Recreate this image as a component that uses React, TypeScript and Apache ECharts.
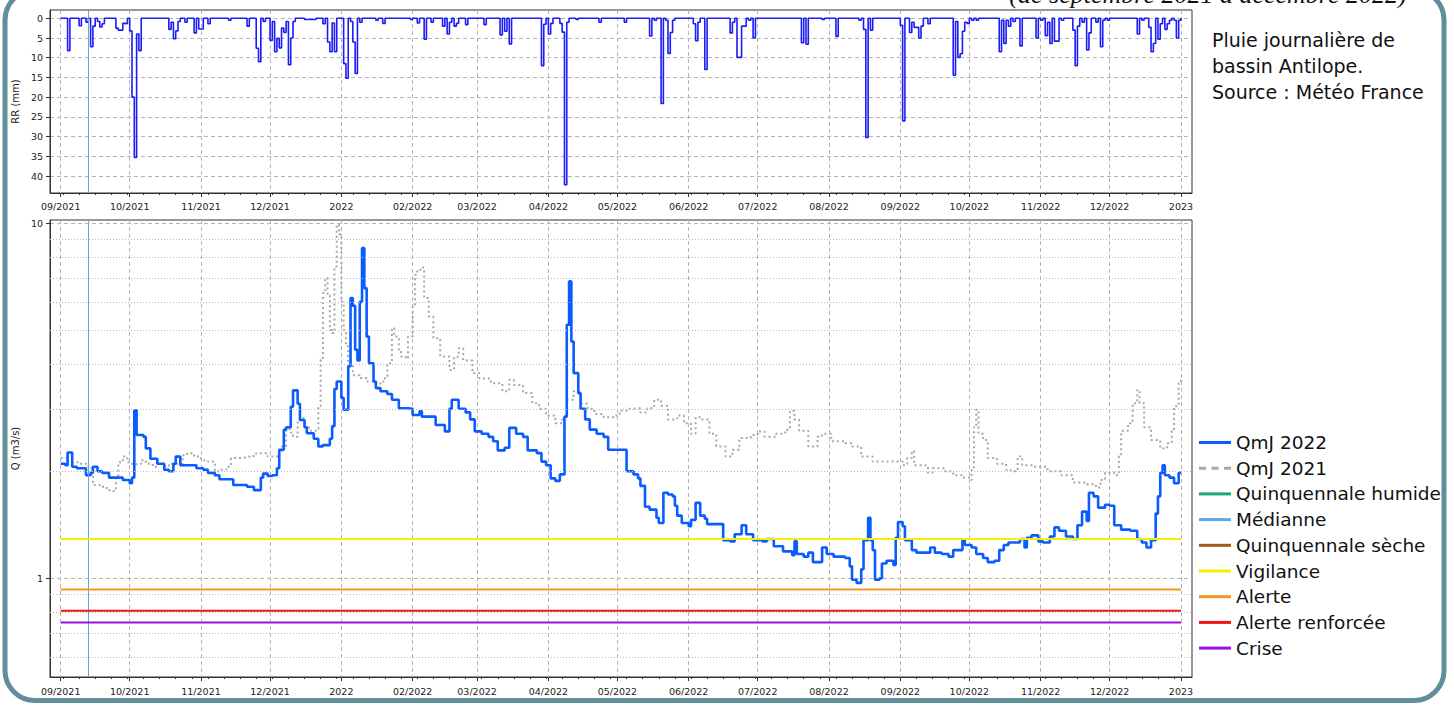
import React, { useEffect, useRef } from 'react';
import * as echarts from 'echarts';

// ---------- DATA ----------
// Day index = days since 2021-09-01 (first day on the x axis)
const START_DATE = '2021-09-01';
const END_DAY = 487; // 2023-01-01

const monthTickDates = [
  '2021-09-01', '2021-10-01', '2021-11-01', '2021-12-01', '2022-01-01', '2022-02-01',
  '2022-03-01', '2022-04-01', '2022-05-01', '2022-06-01', '2022-07-01', '2022-08-01',
  '2022-09-01', '2022-10-01', '2022-11-01', '2022-12-01', '2023-01-01',
];
const monthTickLabels = [
  '09/2021', '10/2021', '11/2021', '12/2021', '2022', '02/2022', '03/2022', '04/2022',
  '05/2022', '06/2022', '07/2022', '08/2022', '09/2022', '10/2022', '11/2022', '12/2022', '2023',
];
const rrTicks = [0, 5, 10, 15, 20, 25, 30, 35, 40];
const qMinorGrid = [0.6, 0.7, 0.8, 0.9, 2, 3, 4, 5, 6, 7, 8, 9];
const markerDay = 12; // vertical marker (2021-09-13)

// Daily basin rainfall, mm: [day, mm] (days without rain are 0)
const rainDays: [number, number][] = [
  [3, 8.2], [8, 1.9], [11, 1.0], [13, 7.2], [14, 2.0], [16, 0.8], [17, 2.2], [18, 1.4],
  [24, 2.5], [25, 3.0], [26, 3.0], [27, 1.3], [28, 1.4], [30, 3.2], [31, 20.0], [32, 35.3],
  [33, 4.0], [34, 8.2], [47, 2.8], [48, 1.0], [49, 5.2], [50, 3.2], [51, 0.8], [54, 1.0],
  [58, 3.7], [60, 2.7], [61, 2.7], [64, 1.4], [73, 0.5], [81, 2.0], [85, 7.6], [86, 11.0],
  [88, 0.8], [91, 5.6], [92, 0.8], [93, 8.5], [94, 5.1], [95, 7.5], [96, 2.5], [97, 3.6],
  [98, 0.8], [99, 11.8], [100, 5.0], [101, 0.8], [106, 0.3], [107, 0.3], [108, 0.3],
  [109, 0.3], [110, 0.3], [114, 1.4], [116, 6.0], [117, 8.5], [118, 1.2], [119, 8.5],
  [123, 11.5], [124, 15.2], [126, 0.8], [127, 6.0], [128, 14.0], [130, 1.0], [137, 0.5],
  [140, 1.3], [152, 0.3], [155, 1.2], [158, 5.3], [161, 1.0], [166, 2.0], [168, 4.0],
  [169, 1.0], [171, 2.0], [172, 1.3], [176, 1.6], [184, 1.6], [191, 4.2], [193, 3.3],
  [195, 6.5], [209, 12.0], [210, 1.5], [212, 4.0], [213, 1.3], [217, 1.3], [218, 3.5],
  [219, 42.2], [220, 1.0], [224, 0.3], [234, 1.0], [245, 1.0], [256, 4.5], [258, 0.5],
  [261, 21.6], [263, 0.5], [264, 8.9], [265, 3.6], [266, 0.5], [275, 1.4], [276, 5.7],
  [277, 1.0], [280, 13.0], [291, 3.7], [292, 1.0], [294, 9.9], [295, 9.9], [296, 2.0],
  [297, 2.0], [299, 0.5], [301, 5.0], [322, 6.2], [324, 6.6], [331, 0.3], [337, 4.6],
  [347, 0.5], [349, 2.8], [350, 30.2], [352, 3.0], [365, 1.8], [366, 26.0], [369, 3.6],
  [370, 1.0], [371, 2.3], [372, 2.3], [373, 5.0], [374, 2.0], [377, 1.4], [388, 14.4],
  [389, 0.8], [390, 9.9], [391, 9.0], [392, 3.3], [393, 1.0], [394, 1.3], [396, 0.5],
  [398, 0.5], [408, 8.5], [409, 0.5], [410, 6.4], [411, 0.5], [412, 2.0], [414, 0.8],
  [417, 7.0], [424, 5.0], [426, 0.5], [428, 4.4], [429, 1.0], [430, 6.4], [432, 5.8],
  [433, 5.8], [435, 0.5], [440, 3.0], [441, 12.0], [442, 2.0], [444, 1.0], [446, 8.0],
  [447, 3.7], [450, 1.0], [452, 7.2], [453, 0.5], [455, 0.5], [468, 4.0], [470, 0.5],
  [473, 2.3], [474, 8.5], [475, 6.4], [477, 5.3], [478, 1.4], [480, 2.8], [481, 1.4],
  [482, 0.5], [484, 0.5], [485, 5.0], [486, 0.5],
];

// Daily mean flow 2022, m3/s: [day, value] at each change
const qmj2022: [number, number][] = [
  [0, 2.10], [2, 2.08], [3, 2.26], [5, 2.06], [7, 2.04], [11, 1.95], [13, 1.98], [14, 2.06],
  [16, 2.0], [18, 1.98], [21, 1.92], [27, 1.89], [30, 1.85], [31, 1.92], [32, 2.97], [33, 2.53],
  [36, 2.5], [37, 2.32], [39, 2.17], [42, 2.1], [45, 2.02], [47, 2.0], [49, 2.1], [50, 2.2],
  [52, 2.08], [59, 2.04], [62, 2.02], [64, 1.98], [67, 1.95], [69, 1.90], [75, 1.83], [81, 1.81],
  [84, 1.77], [87, 1.92], [88, 1.97], [90, 1.94], [92, 1.95], [94, 2.04], [95, 2.3], [97, 2.62],
  [98, 2.66], [100, 3.04], [101, 3.38], [103, 3.1], [104, 2.79], [106, 2.66], [107, 2.56],
  [110, 2.47], [112, 2.35], [114, 2.37], [117, 2.47], [118, 2.68], [119, 3.41], [120, 3.58],
  [122, 3.22], [123, 2.98], [125, 3.95], [126, 6.15], [127, 5.85], [128, 4.40], [129, 4.10],
  [130, 6.0], [131, 8.5], [132, 6.56], [133, 4.79], [134, 4.03], [136, 3.58], [137, 3.43],
  [139, 3.36], [142, 3.3], [144, 3.18], [147, 3.01], [151, 3.0], [153, 2.88], [156, 2.95],
  [157, 2.85], [163, 2.70], [167, 2.59], [169, 3.0], [170, 3.18], [173, 3.0], [176, 2.93],
  [178, 2.8], [180, 2.59], [183, 2.55], [186, 2.50], [188, 2.43], [190, 2.29], [193, 2.33],
  [195, 2.65], [198, 2.55], [201, 2.50], [203, 2.29], [207, 2.25], [209, 2.13], [211, 2.08],
  [213, 1.91], [215, 1.88], [217, 1.96], [219, 2.85], [220, 5.17], [221, 6.85], [222, 4.64],
  [223, 3.78], [225, 3.32], [226, 3.0], [228, 2.8], [230, 2.62], [233, 2.55], [236, 2.5],
  [238, 2.30], [246, 2.0], [249, 1.96], [251, 1.91], [252, 1.82], [254, 1.59], [256, 1.56],
  [259, 1.48], [260, 1.43], [262, 1.74], [264, 1.72], [266, 1.70], [267, 1.60], [268, 1.5],
  [270, 1.43], [273, 1.40], [274, 1.46], [276, 1.63], [278, 1.5], [280, 1.47], [281, 1.42],
  [288, 1.28], [291, 1.27], [293, 1.33], [296, 1.41], [298, 1.33], [301, 1.28], [305, 1.27],
  [307, 1.29], [310, 1.23], [314, 1.19], [318, 1.16], [319, 1.27], [320, 1.17], [323, 1.15],
  [325, 1.18], [327, 1.11], [331, 1.22], [333, 1.17], [336, 1.15], [341, 1.14], [343, 1.08],
  [344, 0.99], [346, 0.97], [348, 1.06], [349, 1.28], [351, 1.48], [352, 1.28], [353, 1.2],
  [354, 0.99], [356, 1.0], [357, 1.1], [359, 1.12], [362, 1.09], [363, 1.3], [364, 1.44],
  [366, 1.40], [367, 1.28], [370, 1.2], [372, 1.18], [378, 1.22], [380, 1.18], [383, 1.17],
  [386, 1.15], [388, 1.2], [392, 1.28], [393, 1.24], [396, 1.22], [398, 1.17], [401, 1.14],
  [403, 1.11], [406, 1.12], [408, 1.2], [410, 1.24], [412, 1.26], [417, 1.29], [419, 1.22],
  [420, 1.3], [422, 1.32], [425, 1.27], [427, 1.26], [430, 1.31], [432, 1.39], [434, 1.36],
  [437, 1.31], [440, 1.29], [442, 1.41], [444, 1.54], [446, 1.45], [447, 1.74], [449, 1.70],
  [451, 1.58], [454, 1.61], [456, 1.6], [458, 1.41], [461, 1.37], [465, 1.36], [468, 1.29],
  [470, 1.26], [472, 1.22], [474, 1.28], [476, 1.52], [477, 1.70], [478, 1.98], [479, 2.08],
  [480, 1.95], [482, 1.92], [484, 1.85], [486, 1.98], [487, 1.98],
];

// Daily mean flow of the previous year, plotted on the same calendar positions
const qmj2021: [number, number][] = [
  [0, 2.18], [3, 2.12], [8, 2.1], [12, 2.04], [14, 1.83], [17, 1.81], [20, 1.77], [22, 1.76],
  [24, 1.92], [25, 2.12], [27, 2.2], [29, 2.12], [31, 2.06], [33, 2.1], [35, 2.15], [37, 2.1],
  [40, 2.06], [42, 2.1], [45, 2.06], [47, 2.1], [53, 2.22], [55, 2.25], [58, 2.2], [61, 2.15],
  [64, 2.13], [67, 2.0], [69, 2.02], [72, 2.06], [74, 2.18], [78, 2.19], [82, 2.21], [85, 2.25],
  [90, 2.2], [95, 2.25], [96, 2.35], [98, 2.63], [100, 2.57], [101, 2.5], [103, 2.77],
  [104, 2.82], [106, 2.66], [108, 2.6], [111, 2.63], [112, 3.05], [113, 4.12], [114, 6.35],
  [115, 7.0], [116, 6.25], [117, 5.0], [118, 4.9], [119, 7.55], [120, 9.9], [121, 9.3],
  [122, 6.0], [123, 5.0], [124, 4.5], [125, 4.0], [127, 3.73], [130, 3.66], [133, 3.58],
  [136, 3.53], [139, 3.58], [141, 3.7], [142, 4.03], [144, 5.06], [145, 4.79], [147, 4.4],
  [148, 4.21], [150, 4.15], [151, 4.79], [153, 5.82], [154, 7.15], [155, 7.39], [157, 7.5],
  [158, 6.15], [160, 5.46], [162, 4.74], [165, 4.21], [169, 3.86], [171, 4.2], [173, 4.44],
  [175, 4.1], [179, 3.78], [182, 3.65], [187, 3.54], [192, 3.36], [195, 3.62], [197, 3.5],
  [201, 3.32], [205, 3.11], [208, 3.0], [211, 2.87], [215, 2.73], [218, 2.84], [220, 3.18],
  [223, 3.36], [226, 3.1], [229, 3.0], [232, 2.9], [236, 2.84], [241, 2.87], [243, 2.96],
  [246, 3.0], [249, 3.01], [252, 2.93], [255, 3.01], [258, 3.18], [261, 3.06], [264, 2.8],
  [268, 2.87], [271, 2.73], [274, 2.55], [276, 2.84], [278, 2.8], [282, 2.55], [285, 2.35],
  [289, 2.2], [292, 2.3], [295, 2.48], [300, 2.53], [303, 2.59], [306, 2.5], [311, 2.55],
  [315, 2.62], [317, 2.96], [319, 2.8], [321, 2.6], [325, 2.35], [329, 2.5], [331, 2.55],
  [335, 2.43], [341, 2.4], [344, 2.35], [348, 2.2], [353, 2.13], [359, 2.13], [366, 2.08],
  [368, 2.18], [370, 2.28], [371, 2.08], [377, 1.98], [379, 2.04], [384, 2.0], [388, 1.95],
  [392, 1.92], [395, 1.89], [396, 2.02], [397, 2.66], [398, 2.98], [399, 2.55], [401, 2.45],
  [403, 2.18], [407, 2.1], [411, 2.02], [413, 2.0], [416, 2.2], [418, 2.08], [423, 2.06],
  [429, 2.0], [435, 1.95], [440, 1.86], [446, 1.84], [450, 1.8], [452, 1.89], [454, 1.98],
  [458, 1.95], [460, 2.2], [461, 2.6], [464, 2.73], [466, 3.11], [468, 3.39], [469, 3.11],
  [471, 2.66], [474, 2.45], [478, 2.32], [481, 2.4], [483, 2.6], [484, 3.05], [486, 3.54],
  [487, 3.62],
];

// Statistical curves listed in the legend (no values drawn in this period)
const quinqHumide: [number, number][] = [];
const medianne: [number, number][] = [];
const quinqSeche: [number, number][] = [];

// Flow thresholds, m3/s
const thresholdNames = ['Vigilance', 'Alerte', 'Alerte renforcée', 'Crise'];
const thresholdValues = [1.29, 0.93, 0.81, 0.75];

const legendNames = [
  'QmJ 2022', 'QmJ 2021', 'Quinquennale humide', 'Médianne', 'Quinquennale sèche',
  'Vigilance', 'Alerte', 'Alerte renforcée', 'Crise',
];

// ---------- HELPERS / STYLES ----------
const DAY = 86400000;
const isoTs = (s: string) => Date.parse(s + 'T00:00:00Z');
const START = isoTs(START_DATE);
const toTs = (d: number) => START + d * DAY;

const FONT = 'DejaVu Sans';
const threshColors = ['#f2f200', '#f5961e', '#f01414', '#9a10e6'];
const statColors = ['#18a47c', '#5aaaf0', '#a35a18'];

function rainSeries(events: [number, number][]) {
  const days = new Set(events.map((e) => e[0]));
  const out: [number, number][] = [[toTs(0), 0]];
  for (const [d, v] of events) {
    out.push([toTs(d), v]);
    if (!days.has(d + 1)) out.push([toTs(d + 1), 0]);
  }
  out.push([toTs(END_DAY), 0]);
  return out;
}
const toSeries = (arr: [number, number][]) => arr.map(([d, v]) => [toTs(d), v]);

const monthTs = monthTickDates.map(isoTs);
const weekTs: number[] = [];
for (let t = isoTs('2021-09-02'); t < isoTs('2023-01-01'); t += 7 * DAY) weekTs.push(t);
const monthLabel = (v: number) => {
  const i = monthTs.findIndex((m) => Math.abs(m - v) < DAY / 2);
  return i >= 0 ? monthTickLabels[i] : '';
};

const xMin = START - 4.65 * DAY;
const xMax = START + 491.8 * DAY;
const gridLine = { color: '#b5b5b5', width: 1, type: [4, 3] as any };
const axisColor = '#333';

function xMajor(gridIndex: number, margin: number) {
  return {
    type: 'value', gridIndex, min: xMin, max: xMax, position: 'bottom', scale: true,
    axisLine: { show: true, onZero: false, lineStyle: { color: axisColor, width: 1 } },
    axisTick: { show: true, customValues: monthTs, length: 4, lineStyle: { color: axisColor } },
    axisLabel: {
      customValues: monthTs, formatter: monthLabel, fontFamily: FONT, fontSize: 9.5,
      color: '#222', margin, hideOverlap: false,
    },
    splitLine: { show: true, lineStyle: gridLine },
  };
}
function xMinor(gridIndex: number) {
  return {
    type: 'value', gridIndex, min: xMin, max: xMax, position: 'bottom', scale: true,
    axisLine: { show: false, onZero: false },
    axisTick: { show: true, customValues: weekTs, length: 2, lineStyle: { color: axisColor } },
    axisLabel: { show: false },
    splitLine: { show: false },
  };
}

const LINE_ICON = 'rect';
const DASH_ICON = 'path://M0,0h7v3h-7z M12.5,0h7v3h-7z M25,0h7v3h-7z';

const option: any = {
  animation: false,
  backgroundColor: '#ffffff',
  textStyle: { fontFamily: FONT },
  grid: [
    { left: 50, top: 10, width: 1142, height: 183, show: true, borderColor: axisColor, borderWidth: 1 },
    { left: 50, top: 220, width: 1142, height: 457, show: true, borderColor: axisColor, borderWidth: 1 },
  ],
  xAxis: [xMajor(0, 8), xMinor(0), xMajor(1, 9), xMinor(1)],
  yAxis: [
    {
      type: 'value', gridIndex: 0, inverse: true, min: -2.1, max: 44.3,
      name: 'RR (mm)', nameLocation: 'middle', nameGap: 28,
      nameTextStyle: { fontFamily: FONT, fontSize: 10, color: '#222' },
      axisLine: { show: true, lineStyle: { color: axisColor } },
      axisTick: { show: true, customValues: rrTicks, length: 4, lineStyle: { color: axisColor } },
      axisLabel: { customValues: rrTicks, fontFamily: FONT, fontSize: 9.5, color: '#222', margin: 7 },
      splitLine: { show: true, lineStyle: gridLine },
    },
    {
      type: 'log', logBase: 10, gridIndex: 1, min: 0.527, max: 10.2,
      name: 'Q (m3/s)', nameLocation: 'middle', nameGap: 26,
      nameTextStyle: { fontFamily: FONT, fontSize: 10, color: '#222' },
      axisLine: { show: true, lineStyle: { color: axisColor } },
      axisTick: { show: true, length: 4, lineStyle: { color: axisColor } },
      axisLabel: {
        fontFamily: FONT, fontSize: 9.5, color: '#222', margin: 7,
        showMinLabel: false, showMaxLabel: false,
      },
      splitLine: { show: true, showMinLine: false, showMaxLine: false, lineStyle: gridLine },
    },
  ],
  legend: {
    orient: 'vertical', left: 1194, top: 428, itemWidth: 32, itemHeight: 3, itemGap: 6.7,
    selectedMode: false,
    textStyle: { fontFamily: FONT, fontSize: 18.5, color: '#111' },
    itemStyle: { borderWidth: 0 },
    data: legendNames.map((n) => ({ name: n, icon: n === 'QmJ 2021' ? DASH_ICON : LINE_ICON })),
  },
  series: [
    {
      type: 'line', name: 'Pluie', xAxisIndex: 0, yAxisIndex: 0, step: 'end', symbol: 'none',
      data: rainSeries(rainDays), color: '#1c1cf5',
      lineStyle: { color: '#1c1cf5', width: 1.6 },
      markLine: {
        silent: true, symbol: 'none', label: { show: false },
        lineStyle: { color: '#62a8d0', width: 1, type: 'solid' },
        data: [{ xAxis: toTs(markerDay) }],
      },
    },
    {
      type: 'line', name: 'grille', xAxisIndex: 2, yAxisIndex: 1, data: [], symbol: 'none', z: 1,
      markLine: {
        silent: true, symbol: 'none', label: { show: false },
        data: [
          ...qMinorGrid.map((v) => ({ yAxis: v, lineStyle: { color: '#bdbdbd', width: 1, type: [1, 2] } })),
          { xAxis: toTs(markerDay), lineStyle: { color: '#62a8d0', width: 1, type: 'solid' } },
        ],
      },
    },
    {
      type: 'line', name: 'QmJ 2022', xAxisIndex: 2, yAxisIndex: 1, step: 'end', symbol: 'none',
      data: toSeries(qmj2022), color: '#0b5cff', lineStyle: { color: '#0b5cff', width: 2.6 }, z: 4,
    },
    {
      type: 'line', name: 'QmJ 2021', xAxisIndex: 2, yAxisIndex: 1, step: 'end', symbol: 'none',
      data: toSeries(qmj2021), color: '#a8a8a8',
      lineStyle: { color: '#a8a8a8', width: 2, type: [2, 3] }, z: 3,
    },
    ...[['Quinquennale humide', quinqHumide], ['Médianne', medianne], ['Quinquennale sèche', quinqSeche]].map(
      ([name, arr]: any, i) => ({
        type: 'line', name, xAxisIndex: 2, yAxisIndex: 1, symbol: 'none',
        data: toSeries(arr), color: statColors[i], lineStyle: { color: statColors[i], width: 2 },
      }),
    ),
    ...thresholdNames.map((name, i) => ({
      type: 'line', name, xAxisIndex: 2, yAxisIndex: 1, symbol: 'none', z: 5,
      data: [[toTs(0), thresholdValues[i]], [toTs(END_DAY), thresholdValues[i]]],
      color: threshColors[i], lineStyle: { color: threshColors[i], width: 2 },
    })),
  ],
  graphic: [
    {
      type: 'rect', silent: true, z: 100,
      shape: { x: 5, y: -10, width: 1439, height: 710.5, r: 30 },
      style: { fill: 'none', stroke: '#5f8f99', lineWidth: 5 },
    },
    {
      type: 'text', silent: true, x: 1208, y: -6,
      style: {
        text: '(de septembre 2021 à décembre 2022)',
        font: 'italic 26px "Liberation Serif"',
        fontFamily: 'Liberation Serif', fontSize: 26, fontStyle: 'italic',
        textAlign: 'center', textVerticalAlign: 'middle', align: 'center', verticalAlign: 'middle',
        fill: '#111',
      },
    },
    {
      type: 'text', silent: true, x: 1212, y: 27.5,
      style: {
        text: 'Pluie journalière de\nbassin Antilope.\nSource : Météo France',
        font: '19px "DejaVu Sans"', fontFamily: FONT, fontSize: 19, lineHeight: 25.8,
        textAlign: 'left', textVerticalAlign: 'top', align: 'left', verticalAlign: 'top',
        fill: '#111',
      },
    },
  ],
};

export default function App() {
  const ref = useRef<HTMLDivElement>(null);
  useEffect(() => {
    const chart = echarts.init(ref.current!, null, { renderer: 'svg' });
    chart.setOption(option);
    return () => chart.dispose();
  }, []);
  return (
    <div
      ref={ref}
      style={{ position: 'fixed', left: 0, top: 0, width: 1454, height: 709, background: '#fff' }}
    />
  );
}
